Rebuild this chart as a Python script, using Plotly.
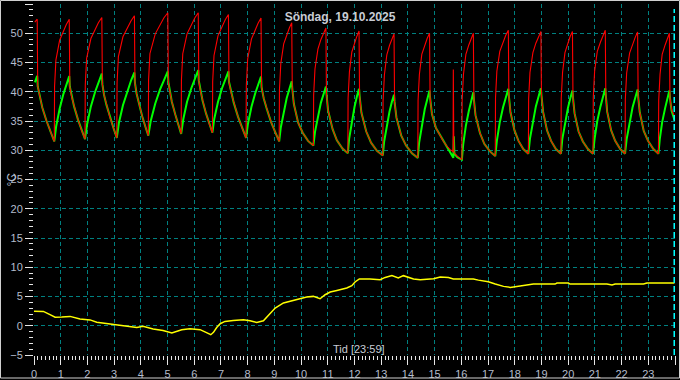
import plotly.graph_objects as go

# ---- data (hours, degC) ----
supply_t = [
    0.03, 0.12, 0.14, 0.22, 0.31, 0.47, 0.63,
    0.76, 0.77, 0.82, 0.96, 1.10, 1.21, 1.32, 1.34, 1.41, 1.50, 1.65, 1.79,
    1.91, 1.92, 1.97, 2.13, 2.29, 2.41, 2.54, 2.56, 2.62, 2.71, 2.85, 2.99,
    3.10, 3.11, 3.16, 3.33, 3.50, 3.63, 3.76, 3.78, 3.84, 3.92, 4.05, 4.18,
    4.28, 4.29, 4.34, 4.54, 4.72, 4.86, 5.01, 5.03, 5.09, 5.16, 5.29, 5.41,
    5.51, 5.52, 5.57, 5.73, 5.89, 6.02, 6.15, 6.17, 6.23, 6.31, 6.44, 6.57,
    6.68, 6.69, 6.74, 6.89, 7.04, 7.16, 7.28, 7.30, 7.38, 7.48, 7.64, 7.81,
    7.94, 7.95, 8.00, 8.14, 8.28, 8.39, 8.50, 8.52, 8.60, 8.70, 8.87, 9.04,
    9.18, 9.19, 9.24, 9.35, 9.46, 9.56, 9.65, 9.67, 9.73, 9.89, 10.06, 10.26,
    10.46, 10.47, 10.52, 10.63, 10.74, 10.84, 10.93, 10.95, 11.01, 11.18, 11.34, 11.55,
    11.75, 11.76, 11.81, 11.90, 12.00, 12.09, 12.17, 12.19, 12.26, 12.44, 12.62, 12.84,
    13.06, 13.07, 13.12, 13.21, 13.31, 13.40, 13.48, 13.50, 13.57, 13.75, 13.93, 14.15,
    14.37, 14.38, 14.43, 14.52, 14.63, 14.72, 14.81, 14.83, 14.90, 15.05, 15.21, 15.33,
    15.46, 15.58, 15.69, 15.70, 15.71, 15.72, 15.85,
    16.02, 16.03, 16.08, 16.17, 16.28, 16.36, 16.45, 16.47, 16.53, 16.70, 16.86, 17.07,
    17.27, 17.28, 17.33, 17.44, 17.56, 17.66, 17.76, 17.78, 17.84, 17.99, 18.14, 18.32,
    18.51, 18.52, 18.57, 18.68, 18.79, 18.89, 18.98, 19.00, 19.06, 19.21, 19.36, 19.54,
    19.73, 19.74, 19.79, 19.88, 19.99, 20.07, 20.16, 20.18, 20.24, 20.39, 20.55, 20.74,
    20.93, 20.94, 20.99, 21.09, 21.21, 21.30, 21.39, 21.41, 21.46, 21.61, 21.76, 21.95,
    22.13, 22.14, 22.19, 22.30, 22.41, 22.51, 22.60, 22.62, 22.68, 22.83, 22.99, 23.19,
    23.38, 23.39, 23.44, 23.52, 23.63, 23.71, 23.79, 23.81, 23.87, 23.98,
]
supply_v = [
    51.9, 52.4, 40.9, 39.0, 37.3, 35.0, 33.0,
    31.5, 40.9, 45.4, 48.8, 50.4, 51.5, 52.4, 40.9, 39.1, 37.5, 35.2, 33.3,
    31.9, 41.2, 45.7, 49.1, 50.7, 51.8, 52.7, 41.3, 39.5, 37.8, 35.5, 33.6,
    32.1, 41.5, 46.0, 49.4, 51.0, 52.1, 53.0, 41.5, 39.7, 38.1, 35.8, 33.9,
    32.5, 42.0, 46.5, 49.9, 51.5, 52.6, 53.5, 41.7, 39.9, 38.3, 36.1, 34.2,
    32.8, 42.0, 46.5, 49.9, 51.5, 52.6, 53.5, 41.9, 40.1, 38.5, 36.3, 34.4,
    33.0, 41.7, 46.2, 49.6, 51.2, 52.3, 53.2, 41.7, 39.8, 38.1, 35.7, 33.6,
    32.1, 41.1, 45.6, 49.0, 50.6, 51.7, 52.6, 40.8, 38.9, 37.3, 34.9, 33.0,
    31.5, 40.3, 44.8, 48.2, 49.8, 50.9, 51.8, 40.6, 37.9, 34.7, 33.0, 31.6,
    30.8, 39.4, 43.9, 47.3, 48.9, 50.0, 50.9, 39.7, 36.8, 33.6, 31.7, 30.3,
    29.5, 38.9, 43.4, 46.8, 48.4, 49.5, 50.4, 39.3, 36.4, 33.2, 31.3, 29.9,
    29.1, 38.4, 42.9, 46.3, 47.9, 49.0, 49.9, 38.3, 35.6, 32.5, 30.8, 29.5,
    28.7, 38.5, 43.0, 46.4, 48.0, 49.1, 50.0, 39.0, 36.2, 33.8, 32.5, 31.5,
    30.7, 30.1, 29.8, 43.8, 36.4, 29.6, 29.0,
    28.4, 38.5, 43.0, 46.4, 48.0, 49.1, 50.0, 38.7, 36.0, 32.9, 31.1, 29.8,
    29.0, 39.0, 43.5, 46.9, 48.5, 49.6, 50.5, 39.3, 36.5, 33.4, 31.6, 30.2,
    29.4, 38.8, 43.3, 46.7, 48.3, 49.4, 50.3, 39.4, 36.6, 33.4, 31.6, 30.2,
    29.4, 38.8, 43.3, 46.7, 48.3, 49.4, 50.3, 39.0, 36.3, 33.2, 31.5, 30.2,
    29.4, 39.0, 43.5, 46.9, 48.5, 49.6, 50.5, 39.4, 36.6, 33.4, 31.6, 30.2,
    29.4, 38.7, 43.2, 46.6, 48.2, 49.3, 50.2, 39.2, 36.5, 33.3, 31.6, 30.2,
    29.4, 38.5, 43.0, 46.4, 48.0, 49.1, 50.0, 39.0, 37.0, 35.8,
]

return_t = [
    0.03, 0.12, 0.14, 0.22, 0.31, 0.47, 0.63,
    0.76, 0.83, 0.96, 1.10, 1.22, 1.32, 1.34, 1.41, 1.50, 1.65, 1.79,
    1.91, 1.99, 2.13, 2.29, 2.43, 2.54, 2.56, 2.62, 2.71, 2.85, 2.99,
    3.10, 3.18, 3.33, 3.50, 3.64, 3.76, 3.78, 3.84, 3.92, 4.05, 4.18,
    4.28, 4.37, 4.54, 4.72, 4.88, 5.01, 5.03, 5.09, 5.16, 5.29, 5.41,
    5.51, 5.59, 5.73, 5.89, 6.04, 6.15, 6.17, 6.23, 6.31, 6.44, 6.57,
    6.68, 6.75, 6.89, 7.04, 7.17, 7.28, 7.30, 7.38, 7.48, 7.64, 7.81,
    7.94, 8.01, 8.14, 8.28, 8.40, 8.50, 8.52, 8.60, 8.70, 8.87, 9.04,
    9.18, 9.24, 9.35, 9.46, 9.57, 9.65, 9.67, 9.73, 9.89, 10.06, 10.26,
    10.46, 10.52, 10.63, 10.74, 10.85, 10.93, 10.95, 11.01, 11.18, 11.34, 11.55,
    11.75, 11.80, 11.90, 12.00, 12.09, 12.17, 12.19, 12.26, 12.44, 12.62, 12.84,
    13.06, 13.11, 13.21, 13.31, 13.40, 13.48, 13.50, 13.57, 13.75, 13.93, 14.15,
    14.37, 14.42, 14.52, 14.63, 14.73, 14.81, 14.83, 14.90, 15.05, 15.21, 15.33,
    15.46, 15.58, 15.68, 15.70, 15.72, 15.74, 15.85,
    16.02, 16.07, 16.17, 16.28, 16.37, 16.45, 16.47, 16.53, 16.70, 16.86, 17.07,
    17.27, 17.33, 17.44, 17.56, 17.67, 17.76, 17.78, 17.84, 17.99, 18.14, 18.32,
    18.51, 18.57, 18.68, 18.79, 18.90, 18.98, 19.00, 19.06, 19.21, 19.36, 19.54,
    19.73, 19.78, 19.88, 19.99, 20.08, 20.16, 20.18, 20.24, 20.39, 20.55, 20.74,
    20.93, 20.99, 21.09, 21.21, 21.31, 21.39, 21.41, 21.46, 21.61, 21.76, 21.95,
    22.13, 22.19, 22.30, 22.41, 22.52, 22.60, 22.62, 22.68, 22.83, 22.99, 23.19,
    23.38, 23.43, 23.52, 23.63, 23.72, 23.79, 23.81, 23.87, 23.98,
]
return_v = [
    41.6, 42.7, 40.9, 39.0, 37.3, 35.0, 33.0,
    31.5, 34.1, 37.1, 39.6, 41.4, 42.7, 40.9, 39.1, 37.5, 35.2, 33.3,
    31.9, 34.5, 37.5, 40.0, 41.8, 43.1, 41.3, 39.5, 37.8, 35.5, 33.6,
    32.1, 34.7, 37.7, 40.2, 42.0, 43.3, 41.5, 39.7, 38.1, 35.8, 33.9,
    32.5, 35.0, 38.0, 40.4, 42.2, 43.5, 41.7, 39.9, 38.3, 36.1, 34.2,
    32.8, 35.3, 38.3, 40.6, 42.4, 43.7, 41.9, 40.1, 38.5, 36.3, 34.4,
    33.0, 35.4, 38.3, 40.6, 42.2, 43.5, 41.7, 39.8, 38.1, 35.7, 33.6,
    32.1, 34.5, 37.4, 39.7, 41.3, 42.6, 40.8, 38.9, 37.3, 34.9, 33.0,
    31.5, 33.9, 36.7, 38.9, 40.6, 41.8, 40.6, 37.9, 34.7, 33.0, 31.6,
    30.8, 33.1, 35.9, 38.1, 39.7, 40.9, 39.7, 36.8, 33.6, 31.7, 30.3,
    29.5, 32.0, 35.0, 37.4, 39.2, 40.5, 39.3, 36.4, 33.2, 31.3, 29.9,
    29.1, 31.5, 34.3, 36.6, 38.3, 39.5, 38.3, 35.6, 32.5, 30.8, 29.5,
    28.7, 31.3, 34.4, 37.0, 38.8, 40.2, 39.0, 36.2, 33.8, 32.5, 31.5,
    30.5, 29.6, 28.8, 28.7, 32.4, 29.4, 28.8,
    28.4, 31.0, 34.2, 36.7, 38.5, 39.9, 38.7, 36.0, 32.9, 31.1, 29.8,
    29.0, 31.6, 34.8, 37.3, 39.1, 40.5, 39.3, 36.5, 33.4, 31.6, 30.2,
    29.4, 32.0, 35.0, 37.5, 39.3, 40.6, 39.4, 36.6, 33.4, 31.6, 30.2,
    29.4, 31.9, 34.8, 37.2, 38.9, 40.2, 39.0, 36.3, 33.2, 31.5, 30.2,
    29.4, 32.0, 35.0, 37.5, 39.3, 40.6, 39.4, 36.6, 33.4, 31.6, 30.2,
    29.4, 31.9, 34.9, 37.3, 39.1, 40.4, 39.2, 36.5, 33.3, 31.6, 30.2,
    29.4, 31.9, 34.8, 37.2, 38.9, 40.2, 39.0, 36.8, 35.2,
]

outdoor_t = [0.00, 0.35, 0.60, 0.79, 1.04, 1.35, 1.72, 2.10, 2.35, 2.58, 2.97, 3.47, 3.85,
             4.08, 4.46, 4.83, 5.16, 5.53, 5.84, 6.22, 6.34, 6.62, 6.72, 6.84, 6.97, 7.15,
             7.46, 7.84, 8.09, 8.34, 8.59, 8.78, 9.03, 9.34, 9.59, 9.96, 10.21, 10.46,
             10.71, 10.90, 11.09, 11.34, 11.71, 11.90, 12.02, 12.18, 12.58, 12.96, 13.15,
             13.40, 13.64, 13.83, 14.02, 14.21, 14.46, 14.96, 15.21, 15.52, 15.70, 16.45,
             16.64, 17.01, 17.27, 17.58, 17.83, 18.08, 18.39, 18.70, 19.51, 19.58, 20.01,
             20.07, 21.45, 21.64, 21.76, 22.82, 22.95, 23.98]
outdoor_v = [2.5, 2.45, 1.9, 1.45, 1.5, 1.6, 1.15, 1.0, 0.6, 0.47, 0.3, 0.06, -0.28,
             -0.1, -0.56, -0.8, -1.24, -0.67, -0.5, -0.67, -0.96, -1.53, -1.13, -0.3, 0.35, 0.74,
             0.9, 1.03, 0.86, 0.57, 0.86, 1.88, 3.03, 3.9, 4.16, 4.57, 4.91, 5.02,
             4.62, 5.3, 5.77, 6.04, 6.45, 6.85, 7.48, 8.0, 8.0, 7.87, 8.26,
             8.6, 8.16, 8.56, 8.33, 8.0, 7.87, 8.04, 8.33, 8.26, 8.0, 8.0,
             7.8, 7.53, 7.13, 6.73, 6.56, 6.73, 6.97, 7.13, 7.13, 7.3, 7.3,
             7.13, 7.13, 6.97, 7.13, 7.13, 7.3, 7.3]

title_text = "Söndag, 19.10.2025"
x_label = "Tid [23:59]"
y_label = "°C"
now_hour = 23.98

# ---- layout ----
W, H = 680, 380
L, R, T, B = 34, 5, 4, 25
PW, PH = W - L - R, H - T - B
label_col = "#b4bccc"
grid_col = "#008080"
tick_col = "#e6e6e6"
font_fam = "Arial, Liberation Sans, sans-serif"

fig = go.Figure()
fig.add_trace(go.Scatter(x=return_t, y=return_v, mode="lines",
                         line=dict(color="#00ff00", width=2.0), hoverinfo="skip"))
fig.add_trace(go.Scatter(x=supply_t, y=supply_v, mode="lines",
                         line=dict(color="#ff0000", width=1.1), hoverinfo="skip"))
fig.add_trace(go.Scatter(x=outdoor_t, y=outdoor_v, mode="lines",
                         line=dict(color="#ffff00", width=1.5), hoverinfo="skip"))

fig.update_layout(
    width=W, height=H, margin=dict(l=L, r=R, t=T, b=B, autoexpand=False),
    paper_bgcolor="black", plot_bgcolor="black", showlegend=False,
    font=dict(family=font_fam, size=10, color=label_col),
    title=dict(text="<b>" + title_text + "</b>", x=0.5, xref="container", xanchor="center",
               y=1 - 17 / H, yref="container", yanchor="middle",
               font=dict(family=font_fam, size=12, color="#c8ccd4")),
)
fig.update_xaxes(range=[0, 24], tick0=0, dtick=1, showgrid=True, gridcolor=grid_col,
                 griddash="4px,3px", gridwidth=1, zeroline=False, showline=False,
                 automargin=False,
                 ticks="outside", ticklen=9, tickcolor=tick_col, tickwidth=1,
                 tickfont=dict(size=11, color=label_col),
                 minor=dict(tick0=0, dtick=1 / 7, ticks="outside", ticklen=4,
                            tickcolor=tick_col, showgrid=False),
                 fixedrange=True)
fig.update_yaxes(range=[-5, 55], tick0=0, dtick=5, showgrid=True, gridcolor=grid_col,
                 griddash="4px,3px", gridwidth=1, zeroline=False, showline=False,
                 automargin=False,
                 ticks="outside", ticklen=8, tickcolor=tick_col, tickwidth=1,
                 tickfont=dict(size=11, color=label_col),
                 minor=dict(tick0=0, dtick=1, ticks="outside", ticklen=4,
                            tickcolor=tick_col, showgrid=False),
                 fixedrange=True)

fig.add_annotation(text=x_label, xref="paper", yref="paper",
                   x=(359 - L) / PW, y=(T + PH - 349) / PH,
                   xanchor="center", yanchor="middle", showarrow=False,
                   font=dict(family=font_fam, size=11, color="#c8ccd4"))
fig.add_annotation(text=y_label, xref="paper", yref="paper",
                   x=(11 - L) / PW, y=0.5, textangle=-90,
                   xanchor="center", yanchor="middle", showarrow=False,
                   font=dict(family=font_fam, size=12, color=label_col))

# current-time marker
fig.add_shape(type="line", xref="x", yref="paper", x0=now_hour, x1=now_hour,
              y0=0, y1=(T + PH - 9) / PH,
              line=dict(color="#00ffff", width=2, dash="6px,3px"))
# outer frame
fig.add_shape(type="rect", xref="paper", yref="paper",
              x0=(0.5 - L) / PW, x1=(W - 0.5 - L) / PW,
              y0=(T + PH - 378) / PH, y1=(T + PH - 0.5) / PH,
              line=dict(color="#d0d0d0", width=1), fillcolor="rgba(0,0,0,0)", layer="above")

fig.write_html("out.html",
               config={"displayModeBar": False, "staticPlot": True},
               post_script="document.body.style.margin='0px';"
                           "document.body.style.overflow='hidden';"
                           "document.body.style.background='black';")
